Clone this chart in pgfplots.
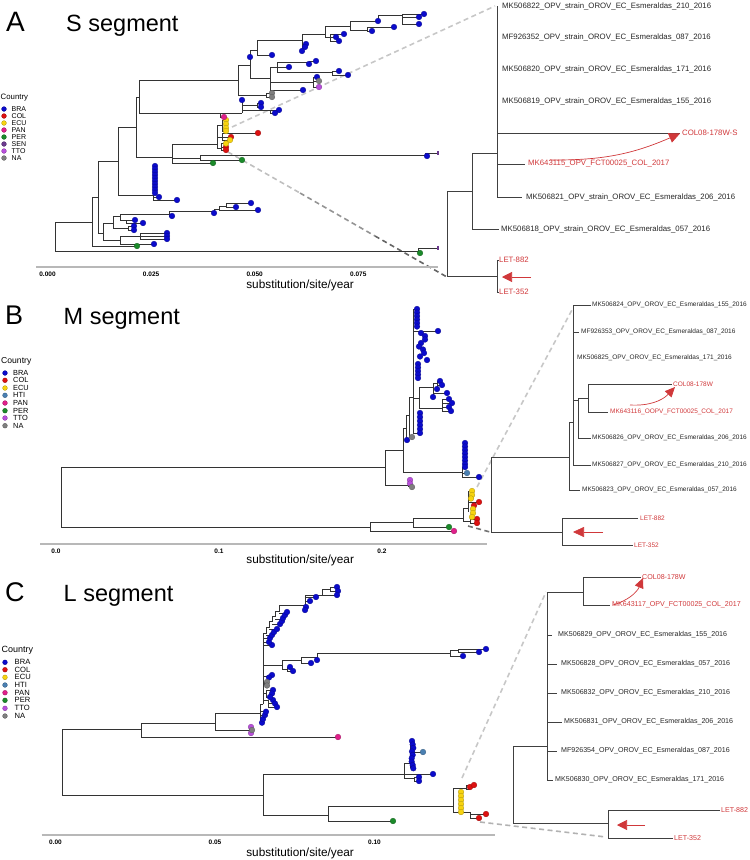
\documentclass[border=0pt]{standalone}
\usepackage{fontspec}
\setmainfont{Liberation Sans}
\usepackage{pgfplots}
\pgfplotsset{compat=1.18}
\usetikzlibrary{arrows.meta}

\definecolor{cBRA}{HTML}{0B0BCC}
\definecolor{cCOL}{HTML}{DD1111}
\definecolor{cECU}{HTML}{F7D310}
\definecolor{cHTI}{HTML}{4A80B2}
\definecolor{cPAN}{HTML}{E0208A}
\definecolor{cPER}{HTML}{1B8A2A}
\definecolor{cSEN}{HTML}{6B3A8E}
\definecolor{cTTO}{HTML}{B84FDB}
\definecolor{cNA}{HTML}{7F7F7F}
\definecolor{cRed}{HTML}{D0383A}

\pgfplotsset{
  dot/.style={only marks, mark=*, mark size=2.85, mark options={fill=#1, draw=#1!70!black, line width=0.3pt}},
  ldot/.style={only marks, mark=*, mark size=2.4, mark options={fill=#1, draw=#1!70!black, line width=0.3pt}},
  tree/.style={draw=black!80, line width=0.85pt, mark=none},
  dashln/.style={draw=#1, line width=1.6pt, dash pattern=on 5pt off 3.5pt, mark=none},
}
\newcommand{\tiplab}[4]{\node[anchor=west,inner sep=0pt,text=#1,font=\fontsize{#3}{#3}\selectfont] at (axis cs:#2) {#4};}

\begin{document}
\begin{tikzpicture}
\useasboundingbox (0,0) rectangle (750pt,860pt);
\begin{axis}[at={(0pt,0pt)}, anchor=south west, width=750pt, height=860pt, scale only axis,
  xmin=0, xmax=750, ymin=0, ymax=860, y dir=reverse, hide axis, clip=false,
  unbounded coords=jump]

% ---------- dashed zoom connectors ----------
\addplot[dashln=black!22] coordinates {(232,127)(495,6)};
\addplot[dashln=black!25] coordinates {(228,152)(300,193)};
\addplot[dashln=black!42] coordinates {(300,193)(375,236)};
\addplot[dashln=black!60] coordinates {(375,236)(447,277)};
\addplot[dashln=black!22] coordinates {(477,487)(573,308)};
\addplot[dashln=black!55] coordinates {(468,526)(490,532)};
\addplot[dashln=black!22] coordinates {(462,778)(546,592)};
\addplot[dashln=black!30] coordinates {(480,822)(606,837)};

% ---------- Panel A tree ----------
\addplot[tree] coordinates {
(92,222)(55,222)(55,251)(418,251) (nan,nan)
(420,253)(418,253)(418,248)(438,248) (nan,nan)
(98,197)(92,197)(92,246)(137,246) (nan,nan)
(118,161)(98,161)(98,233)(103,233) (nan,nan)
(113,223)(103,223)(103,240)(120,240) (nan,nan)
(120,216)(113,216)(113,228)(128,228) (nan,nan)
(134,226)(128,226)(128,230)(134,230) (nan,nan)
(169,214)(120,214)(120,220)(135,220) (nan,nan)
(126,220)(126,223)(143,223) (nan,nan)
(172,216)(169,216)(169,211)(214,211) (nan,nan)
(214,213)(214,209)(219,209) (nan,nan)
(258,210)(219,210)(219,206)(226,206) (nan,nan)
(236,207)(226,207)(226,203)(251,203) (nan,nan)
(154,244)(120,244)(120,236)(140,236) (nan,nan)
(167,233)(140,233)(140,239)(167,239) (nan,nan)
(140,236)(167,236) (nan,nan)
(136,127)(118,127)(118,195)(153,195) (nan,nan)
(155,166)(153,166)(153,200)(177,200) (nan,nan)
(153,197)(159,197) (nan,nan)
(139,97)(136,97)(136,157)(172,157) (nan,nan)
(217,144)(172,144)(172,163)(213,163) (nan,nan)
(172,158)(200,158) (nan,nan)
(425,155)(200,155)(200,160)(242,160) (nan,nan)
(427,156)(425,156)(425,153)(438,153) (nan,nan)
(222,125)(217,125)(217,148)(221,148) (nan,nan)
(217,137)(222,137) (nan,nan)
(226,120)(222,120)(222,131)(226,131) (nan,nan)
(258,133)(222,133)(222,140)(230,140) (nan,nan)
(222,137)(231,137) (nan,nan)
(226,143)(221,143)(221,150)(226,150) (nan,nan)
(221,147)(226,147) (nan,nan)
(238,80)(139,80)(139,113)(220,113) (nan,nan)
(224,117)(220,117)(220,113)(242,113) (nan,nan)
(242,100)(242,113) (nan,nan)
(242,105)(257,105) (nan,nan)
(242,110)(270,110) (nan,nan)
(261,103)(257,103)(257,107)(261,107) (nan,nan)
(279,110)(270,110)(270,113)(275,113) (nan,nan)
(250,65)(238,65)(238,95)(266,95) (nan,nan)
(272,93)(266,93)(266,97)(272,97) (nan,nan)
(257,50)(250,50)(250,78)(270,78) (nan,nan)
(302,40)(257,40)(257,55)(272,55) (nan,nan)
(325,34)(302,34)(302,51) (nan,nan)
(302,44)(306,44) (nan,nan)
(302,47)(305,47) (nan,nan)
(350,26)(325,26)(325,37)(330,37) (nan,nan)
(344,34)(330,34)(330,41)(339,41) (nan,nan)
(330,37)(336,37) (nan,nan)
(378,21)(350,21)(350,30)(367,30) (nan,nan)
(394,27)(367,27)(367,31)(372,31) (nan,nan)
(378,21)(378,15)(402,15) (nan,nan)
(424,14)(402,14)(402,24)(419,24) (nan,nan)
(402,17)(419,17) (nan,nan)
(277,67)(270,67)(270,90)(303,90) (nan,nan)
(270,82)(313,82) (nan,nan)
(309,62)(277,62)(277,72)(332,72) (nan,nan)
(277,67)(289,67) (nan,nan)
(316,61)(309,61)(309,64) (nan,nan)
(339,71)(332,71)(332,75)(348,75) (nan,nan)
(317,77)(313,77)(313,87)(319,87) (nan,nan)
(313,81)(319,81)
};
% Panel A zoomed subtree
\addplot[tree, draw=black!75] coordinates {
(497,6)(497,197) (nan,nan)
(497,133)(680,133) (nan,nan)
(497,164)(525,164) (nan,nan)
(497,197)(522,197) (nan,nan)
(497,153)(472,153)(472,229)(499,229) (nan,nan)
(472,191)(447,191)(447,276)(497,276) (nan,nan)
(499,260)(497,260)(497,292)(499,292)
};

% ---------- Panel B tree ----------
\addplot[tree] coordinates {
(385,467)(61,467)(61,527)(370,527) (nan,nan)
(408,485)(385,485)(385,450)(403,450) (nan,nan)
(408,480)(408,487) (nan,nan)
(406,428)(403,428)(403,472)(462,472) (nan,nan)
(464,443)(464,467)(462,467)(462,477)(479,477) (nan,nan)
(462,473)(467,473) (nan,nan)
(409,415)(406,415)(406,440)(407,440) (nan,nan)
(413,397)(409,397)(409,437)(412,437) (nan,nan)
(417,309)(413,309)(413,433)(420,433) (nan,nan)
(413,331)(438,331) (nan,nan)
(413,398)(419,398) (nan,nan)
(433,387)(419,387)(419,408)(442,408) (nan,nan)
(437,383)(433,383)(433,397) (nan,nan)
(433,393)(447,393) (nan,nan)
(440,381)(437,381)(437,389) (nan,nan)
(437,385)(442,385) (nan,nan)
(449,399)(442,399)(442,411)(451,411) (nan,nan)
(442,403)(452,403) (nan,nan)
(442,407)(449,407) (nan,nan)
(413,522)(370,522)(370,531)(452,531) (nan,nan)
(463,518)(413,518)(413,527)(449,527) (nan,nan)
(468,508)(463,508)(463,521)(470,521) (nan,nan)
(468,491)(468,512) (nan,nan)
(477,519)(470,519)(470,523)(477,523) (nan,nan)
(468,502)(479,502)
};
\addplot[tree, draw=black!75] coordinates {
(562,532)(491,532)(491,457)(569,457) (nan,nan)
(573,422)(569,422)(569,490)(580,490) (nan,nan)
(591,305)(573,305)(573,465)(591,465) (nan,nan)
(573,332)(579,332) (nan,nan)
(573,400)(578,400) (nan,nan)
(588,398)(578,398)(578,438)(591,438) (nan,nan)
(672,384)(588,384)(588,412)(608,412) (nan,nan)
(638,518)(562,518)(562,545)(633,545)
};

% ---------- Panel C tree ----------
\addplot[tree] coordinates {
(141.7,729)(62.7,729)(62.7,795)(263.3,795) (nan,nan)
(215,723)(141.7,723)(141.7,737)(338,737) (nan,nan)
(260,713)(215,713)(215,730.7)(249,730.7) (nan,nan)
(249,727)(249,733) (nan,nan)
(263,704)(260,704)(260,722)(262,722) (nan,nan)
(260,719)(263,719) (nan,nan)
(260,715)(265,715) (nan,nan)
(260,711)(266,711) (nan,nan)
(263,704)(263,633)(266,633)(266,627)(269,627)(269,621)(272,621)(272,616)(275,616)(275,611)(279,611)(279,605)(305,605) (nan,nan)
(263,645)(272,645) (nan,nan)
(263,642)(269,642) (nan,nan)
(263,638)(270,638) (nan,nan)
(266,635)(272,635) (nan,nan)
(269,629)(277,629) (nan,nan)
(272,624)(280,624) (nan,nan)
(275,619)(283,619) (nan,nan)
(279,613)(287,613) (nan,nan)
(263,700)(268,700)(268,707)(277,707) (nan,nan)
(268,703)(275,703) (nan,nan)
(263,693)(266,693) (nan,nan)
(273,690)(266,690)(266,697)(270,697) (nan,nan)
(263,683)(264,683) (nan,nan)
(264,682)(264,685) (nan,nan)
(263,676)(269,676) (nan,nan)
(263,665)(282,665) (nan,nan)
(301,660)(282,660)(282,669)(287,669) (nan,nan)
(290,667)(287,667)(287,671)(293,671) (nan,nan)
(317,657)(301,657)(301,663)(311,663) (nan,nan)
(317,660)(317,653)(450,653) (nan,nan)
(458,650)(450,650)(450,656)(463,656) (nan,nan)
(486,649)(458,649)(458,652)(479,652) (nan,nan)
(305,595)(305,610) (nan,nan)
(305,601)(310,601) (nan,nan)
(305,597)(316,597) (nan,nan)
(305,595)(322,595) (nan,nan)
(322,589)(322,595)(337,595) (nan,nan)
(322,589)(330,589) (nan,nan)
(337,587)(330,587)(330,591)(338,591) (nan,nan)
(404,774)(263,774)(263,815)(328,815) (nan,nan)
(410,763)(404,763)(404,778)(414,778) (nan,nan)
(404,774)(433,774) (nan,nan)
(410,741)(410,768) (nan,nan)
(412,752)(423,752) (nan,nan)
(419,777)(414,777)(414,781)(419,781) (nan,nan)
(453,806)(328,806)(328,821)(393,821) (nan,nan)
(466,788)(453,788)(453,812)(470,812) (nan,nan)
(474,785)(466,785)(466,789)(470,789) (nan,nan)
(470,812)(470,818)(479,818) (nan,nan)
(470,814)(486,814)
};
\addplot[tree, draw=black!75] coordinates {
(547,746)(513,746)(513,823)(608,823) (nan,nan)
(583,592)(547,592)(547,780)(553,780) (nan,nan)
(547,635)(552,635) (nan,nan)
(547,664)(557,664) (nan,nan)
(547,693)(557,693) (nan,nan)
(547,722)(562,722) (nan,nan)
(547,751)(557,751) (nan,nan)
(641,577)(583,577)(583,605)(610,605) (nan,nan)
(720,810)(608,810)(608,838)(673,838)
};

% ---------- tip points ----------
\addplot[dot=cBRA] coordinates {
(155,166)(155,169)(155,172)(155,175)(155,178)(155,181)(155,184)(155,187)(155,190)(155,193)(159,197)(177,200)(172,216)(214,213)(236,207)(251,203)(258,210)(135,220)(143,223)(134,226)(134,230)(167,233)(167,236)(167,239)(154,244)(427,156)(242,100)(261,103)(261,107)(279,110)(275,113)(424,14)(419,17)(419,24)(394,27)(378,21)(372,31)(344,34)(336,37)(339,41)(306,44)(305,47)(302,51)(272,55)(250,57)(316,61)(309,64)(289,67)(339,71)(348,75)(317,77)(303,90)
(417,309)(417,312.5)(417,316)(417,319.5)(417,323)(417,326.5)(438,331)(421,333)(425,336)(425,339.5)(421,343)(419,346.5)(423,349.5)(424,353)(420,356.5)(427,360)(418,364)(418,367.5)(418,371)(418,374.5)(418,378)(440,381)(442,385)(437,389)(447,393)(433,397)(449,399)(452,403)(449,407)(451,411)(420,413)(420,417)(420,421)(420,425)(420,429)(420,433)(407,440)(465,443)(465,446.5)(465,450)(465,453.5)(465,457)(465,460.5)(465,464)(465,467)(479,477)
(262,722.7)(263,719)(265,715)(266,711.7)(273,700)(275,703.5)(277,707)(273,690)(272,693.5)(270,697)(272,675)(269,677.5)(290,667)(293,671)(311,663)(317,660)(463,656)(479,652)(486,649)(272,645)(269,642)(270,638)(272,635)(274,632)(277,629)(280,624)(282,621)(283,618)(285,615)(287,612)(306,607)(305,610)(310,601)(316,597)(337,587)(338,591)(337,595)(412,741)(412.7,744.5)(413.3,748)(412,751.5)(412.7,755)(411.7,758.3)(411.7,761.7)(412.7,765)(413.3,768.3)(433,774)(419,777)(419,781)
};
\addplot[dot=cCOL] coordinates {(258,133)(231,137)(226,147)(226,150)(479,502)(474,505.5)(477,519)(477,523)(470,787)(474,785)(479,818)(486,814)};
\addplot[dot=cECU] coordinates {(226,120)(226,124)(226,128)(226,131)(230,140)(226,143.5)(472,491)(472,495)(471,498.5)(473,509)(473,513)(472,517)(461,792)(461,796)(461,800)(461,804)(461,808)(461,812)};
\addplot[dot=cPAN] coordinates {(224,117)(454,531)(338,737)};
\addplot[dot=cPER] coordinates {(137,246)(213,163)(242,160)(420,253)(449,527)(393,821)};
\addplot[dot=cHTI] coordinates {(467,473)(423,752)};
\addplot[dot=cTTO] coordinates {(319,87)(410,480)(410,483.5)(251,727)(251,733)};
\addplot[dot=cNA] coordinates {(319,81)(272,93)(272,97)(412,437)(412,487)(267,682)(267,685.5)(252,730)};
\addplot[only marks, mark=|, mark size=2.2, mark options={draw=cSEN, line width=1.1pt}] coordinates {(438,153)(438,248)};

% ---------- legends ----------
\addplot[ldot=cBRA] coordinates {(4,109)(5,373)(5,662.3)};
\addplot[ldot=cCOL] coordinates {(4,116)(5,380.3)(5,669.7)};
\addplot[ldot=cECU] coordinates {(4,123)(5,388)(5,677.3)};
\addplot[ldot=cPAN] coordinates {(4,130)(5,403)(5,692.7)};
\addplot[ldot=cPER] coordinates {(4,137)(5,410.7)(5,700.3)};
\addplot[ldot=cSEN] coordinates {(4,144)};
\addplot[ldot=cTTO] coordinates {(4,151)(5,418)(5,708.3)};
\addplot[ldot=cNA] coordinates {(4,158)(5,425.7)(5,716)};
\addplot[ldot=cHTI] coordinates {(5,395.3)(5,685)};

\tiplab{black}{0.5,98}{7.8}{Country}
\tiplab{black}{11.5,109}{7}{BRA}
\tiplab{black}{11.5,116}{7}{COL}
\tiplab{black}{11.5,123}{7}{ECU}
\tiplab{black}{11.5,130}{7}{PAN}
\tiplab{black}{11.5,137}{7}{PER}
\tiplab{black}{11.5,144}{7}{SEN}
\tiplab{black}{11.5,151}{7}{TTO}
\tiplab{black}{11.5,158}{7}{NA}

\tiplab{black}{1,361}{8.6}{Country}
\tiplab{black}{13,373}{7.4}{BRA}
\tiplab{black}{13,380.3}{7.4}{COL}
\tiplab{black}{13,388}{7.4}{ECU}
\tiplab{black}{13,395.3}{7.4}{HTI}
\tiplab{black}{13,403}{7.4}{PAN}
\tiplab{black}{13,410.7}{7.4}{PER}
\tiplab{black}{13,418}{7.4}{TTO}
\tiplab{black}{13,425.7}{7.4}{NA}

\tiplab{black}{1.5,650}{9}{Country}
\tiplab{black}{14.5,662.3}{7.6}{BRA}
\tiplab{black}{14.5,669.7}{7.6}{COL}
\tiplab{black}{14.5,677.3}{7.6}{ECU}
\tiplab{black}{14.5,685}{7.6}{HTI}
\tiplab{black}{14.5,692.7}{7.6}{PAN}
\tiplab{black}{14.5,700.3}{7.6}{PER}
\tiplab{black}{14.5,708.3}{7.6}{TTO}
\tiplab{black}{14.5,716}{7.6}{NA}

% ---------- titles ----------
\node[anchor=base west,inner sep=0pt,font=\fontsize{28}{28}\selectfont] at (axis cs:6,31.5) {A};
\node[anchor=base west,inner sep=0pt,font=\fontsize{23.5}{23.5}\selectfont] at (axis cs:66,31.5) {S segment};
\node[anchor=base west,inner sep=0pt,font=\fontsize{27}{27}\selectfont] at (axis cs:5,324) {B};
\node[anchor=base west,inner sep=0pt,font=\fontsize{23.5}{23.5}\selectfont] at (axis cs:63.5,324) {M segment};
\node[anchor=base west,inner sep=0pt,font=\fontsize{27}{27}\selectfont] at (axis cs:5,601.5) {C};
\node[anchor=base west,inner sep=0pt,font=\fontsize{23.5}{23.5}\selectfont] at (axis cs:63.5,601.5) {L segment};

% ---------- tip labels A ----------
\tiplab{black!85}{502,6}{7.8}{MK506822\_OPV\_strain\_OROV\_EC\_Esmeraldas\_210\_2016}
\tiplab{black!85}{502,37}{7.8}{MF926352\_OPV\_strain\_OROV\_EC\_Esmeraldas\_087\_2016}
\tiplab{black!85}{502,69}{7.8}{MK506820\_OPV\_strain\_OROV\_EC\_Esmeraldas\_171\_2016}
\tiplab{black!85}{502,101}{7.8}{MK506819\_OPV\_strain\_OROV\_EC\_Esmeraldas\_155\_2016}
\tiplab{cRed}{682,133}{7.8}{COL08-178W-S}
\tiplab{cRed}{528,164}{7.8}{MK643115\_OPV\_FCT00025\_COL\_2017}
\tiplab{black!85}{526,197}{7.8}{MK506821\_OPV\_strain\_OROV\_EC\_Esmeraldas\_206\_2016}
\tiplab{black!85}{501,229}{7.8}{MK506818\_OPV\_strain\_OROV\_EC\_Esmeraldas\_057\_2016}
\tiplab{cRed}{499,260}{7.8}{LET-882}
\tiplab{cRed}{499,292}{7.8}{LET-352}
% ---------- tip labels B ----------
\tiplab{black!85}{592,305}{6.5}{MK506824\_OPV\_OROV\_EC\_Esmeraldas\_155\_2016}
\tiplab{black!85}{581,332}{6.5}{MF926353\_OPV\_OROV\_EC\_Esmeraldas\_087\_2016}
\tiplab{black!85}{577,358}{6.5}{MK506825\_OPV\_OROV\_EC\_Esmeraldas\_171\_2016}
\tiplab{cRed}{673,384}{6.5}{COL08-178W}
\tiplab{cRed}{610,412}{6.5}{MK643116\_OOPV\_FCT00025\_COL\_2017}
\tiplab{black!85}{592,438}{6.5}{MK506826\_OPV\_OROV\_EC\_Esmeraldas\_206\_2016}
\tiplab{black!85}{592,465}{6.5}{MK506827\_OPV\_OROV\_EC\_Esmeraldas\_210\_2016}
\tiplab{black!85}{582,490}{6.5}{MK506823\_OPV\_OROV\_EC\_Esmeraldas\_057\_2016}
\tiplab{cRed}{640,518}{6.5}{LET-882}
\tiplab{cRed}{634,545}{6.5}{LET-352}
% ---------- tip labels C ----------
\tiplab{cRed}{642,577}{7.1}{COL08-178W}
\tiplab{cRed}{612,605}{7.1}{MK643117\_OPV\_FCT00025\_COL\_2017}
\tiplab{black!85}{558,635}{7.1}{MK506829\_OPV\_OROV\_EC\_Esmeraldas\_155\_2016}
\tiplab{black!85}{561,664}{7.1}{MK506828\_OPV\_OROV\_EC\_Esmeraldas\_057\_2016}
\tiplab{black!85}{561,693}{7.1}{MK506832\_OPV\_OROV\_EC\_Esmeraldas\_210\_2016}
\tiplab{black!85}{564,722}{7.1}{MK506831\_OPV\_OROV\_EC\_Esmeraldas\_206\_2016}
\tiplab{black!85}{561,751}{7.1}{MF926354\_OPV\_OROV\_EC\_Esmeraldas\_087\_2016}
\tiplab{black!85}{555,780}{7.1}{MK506830\_OPV\_OROV\_EC\_Esmeraldas\_171\_2016}
\tiplab{cRed}{721,810}{7.1}{LET-882}
\tiplab{cRed}{674,838}{7.1}{LET-352}

% ---------- red arrows ----------
\draw[cRed, line width=0.7pt, -{Triangle[length=11pt,width=10pt]}] (axis cs:550,160) to[bend right=12] (axis cs:680,133.5);
\draw[cRed, line width=0.6pt, -{Triangle[length=10pt,width=10pt]}] (axis cs:531,277) -- (axis cs:502,277);
\draw[cRed, line width=0.7pt, -{Triangle[length=10pt,width=9pt]}] (axis cs:630,405) to[bend right=25] (axis cs:675,387);
\draw[cRed, line width=0.6pt, -{Triangle[length=11pt,width=10pt]}] (axis cs:603,532) -- (axis cs:573,532);
\draw[cRed, line width=0.7pt, -{Triangle[length=10pt,width=9pt]}] (axis cs:613,605) to[bend right=25] (axis cs:643,578);
\draw[cRed, line width=0.6pt, -{Triangle[length=10pt,width=10pt]}] (axis cs:645,825) -- (axis cs:617,825);
\end{axis}

% ---------- scale axes ----------
\begin{axis}[at={(36pt,593pt)}, anchor=south west, width=402pt, height=10pt, scale only axis,
  xmin=-0.002775, xmax=0.094233, ymin=0, ymax=1, scaled x ticks=false,
  axis x line*=bottom, axis y line=none, ytick=\empty,
  x axis line style={-, line width=1.6pt, draw=black!28},
  xtick={0,0.025,0.05,0.075}, xticklabels={0.000,0.025,0.050,0.075},
  major tick length=0pt, xtick style={draw=none},
  xticklabel style={font=\fontsize{6.5}{6.5}\selectfont\bfseries, yshift=-1pt},
  xlabel={substitution/site/year},
  xlabel style={at={(axis description cs:0.657,0)}, anchor=base, yshift=-22pt, font=\fontsize{11.8}{11.8}\selectfont}]
\addplot[draw=none] coordinates {(0,0.5)};
\end{axis}
\begin{axis}[at={(40pt,316pt)}, anchor=south west, width=447pt, height=10pt, scale only axis,
  xmin=-0.009816, xmax=0.264417, ymin=0, ymax=1, scaled x ticks=false,
  axis x line*=bottom, axis y line=none, ytick=\empty,
  x axis line style={-, line width=1.6pt, draw=black!28},
  xtick={0,0.1,0.2}, xticklabels={0.0,0.1,0.2},
  major tick length=0pt, xtick style={draw=none},
  xticklabel style={font=\fontsize{6.5}{6.5}\selectfont\bfseries, yshift=-1pt},
  xlabel={substitution/site/year},
  xlabel style={at={(axis description cs:0.582,0)}, anchor=base, yshift=-20pt, font=\fontsize{11.8}{11.8}\selectfont}]
\addplot[draw=none] coordinates {(0,0.5)};
\end{axis}
\begin{axis}[at={(41.7pt,25pt)}, anchor=south west, width=453.3pt, height=10pt, scale only axis,
  xmin=-0.004326, xmax=0.137774, ymin=0, ymax=1, scaled x ticks=false,
  axis x line*=bottom, axis y line=none, ytick=\empty,
  x axis line style={-, line width=1.6pt, draw=black!28},
  xtick={0,0.05,0.1}, xticklabels={0.00,0.05,0.10},
  major tick length=0pt, xtick style={draw=none},
  xticklabel style={font=\fontsize{6.5}{6.5}\selectfont\bfseries, yshift=-1pt},
  xlabel={substitution/site/year},
  xlabel style={at={(axis description cs:0.570,0)}, anchor=base, yshift=-21.5pt, font=\fontsize{11.8}{11.8}\selectfont}]
\addplot[draw=none] coordinates {(0,0.5)};
\end{axis}
\end{tikzpicture}
\end{document}
